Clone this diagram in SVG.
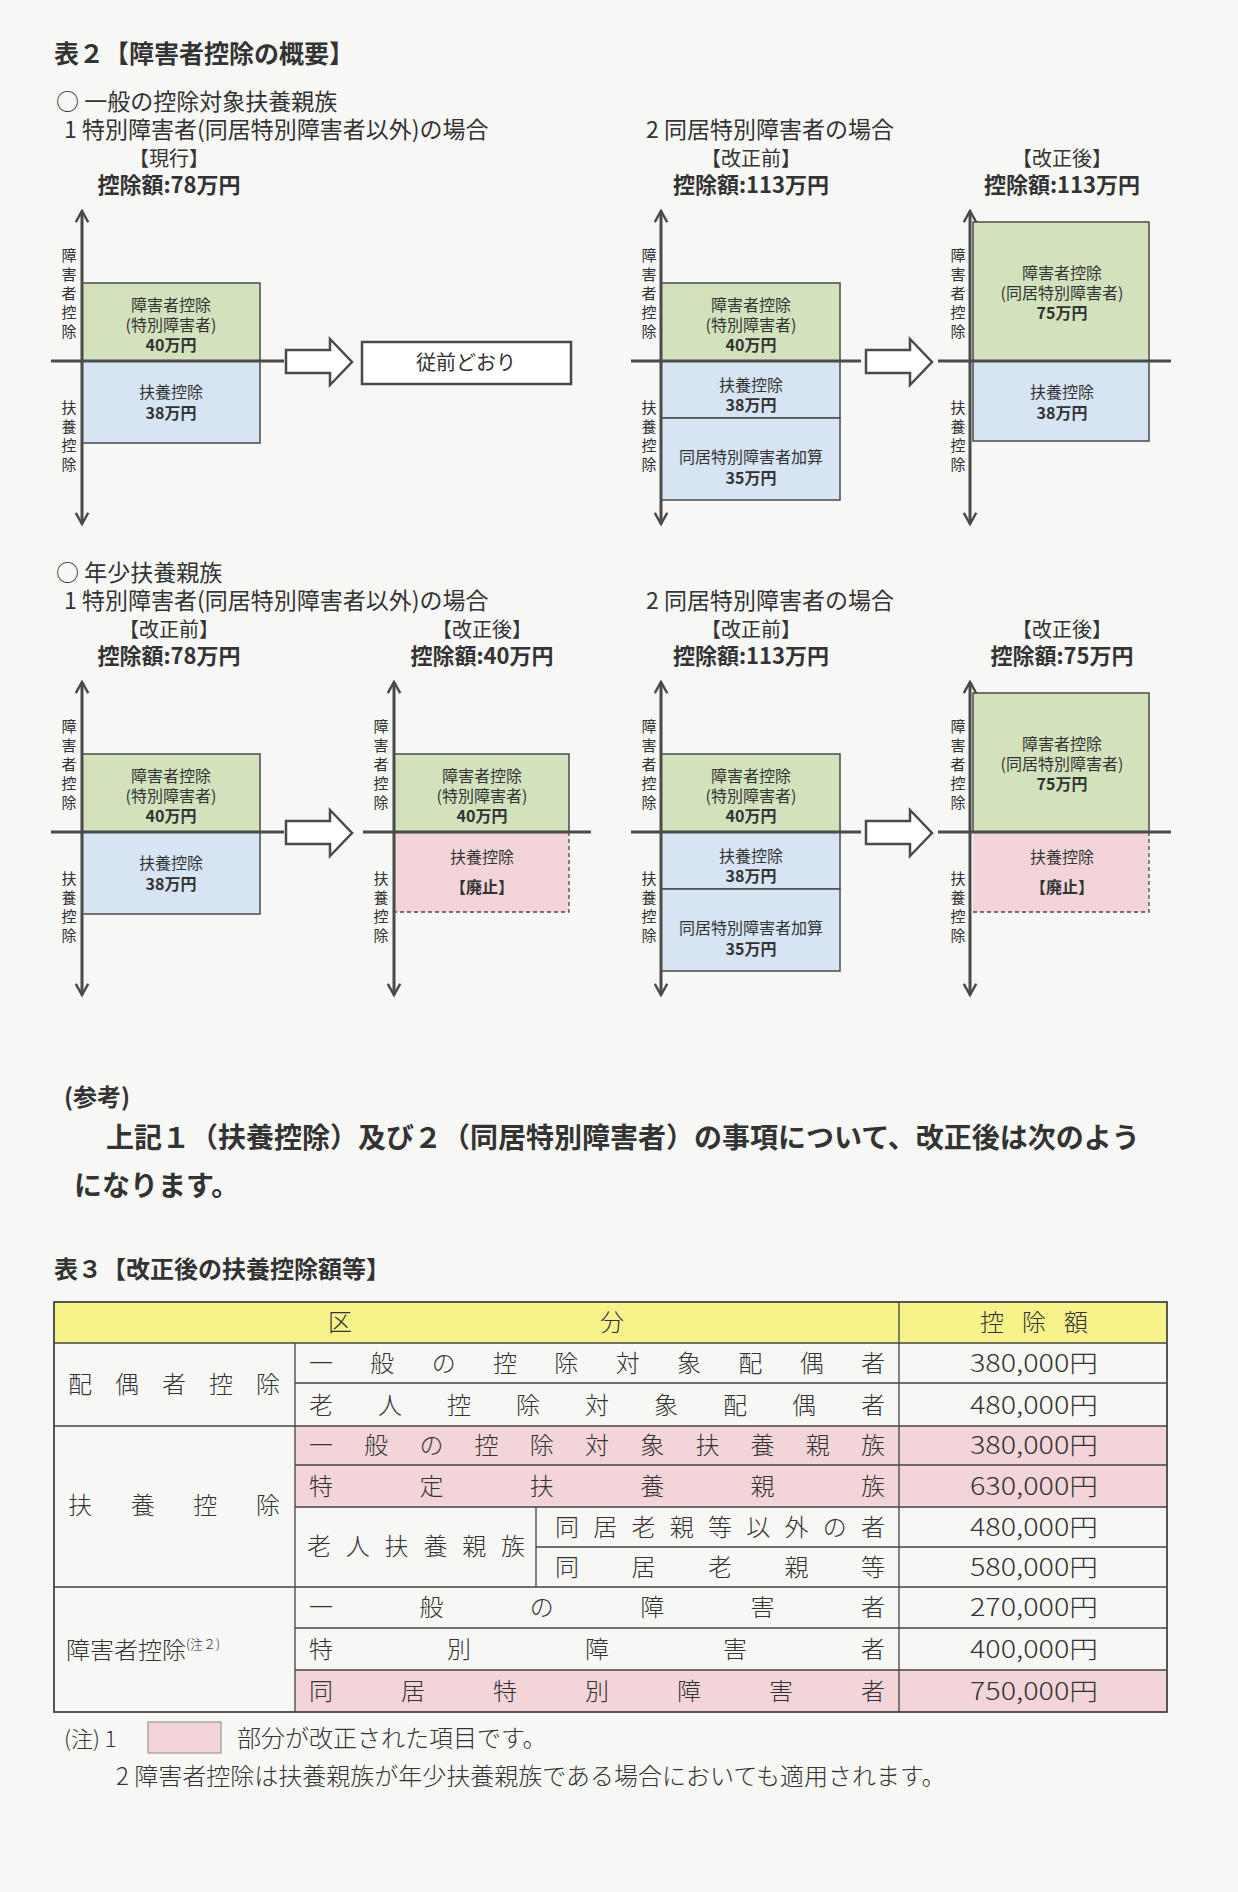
<svg xmlns="http://www.w3.org/2000/svg" width="1238" height="1892" viewBox="0 0 1238 1892">
<defs>
<style>
text{font-family:"Noto Sans CJK JP","Noto Sans",sans-serif;fill:#333}
.ax{stroke:#4a4a4a;stroke-width:3;fill:none}
.bx{stroke:#4a4a4a;stroke-width:1.5}
.g{fill:#d2e2bd}.b{fill:#d6e4f3}.p{fill:#f3d5d9}
.t{font-size:16px;text-anchor:middle}
.h{font-size:20px;text-anchor:middle}
.hb{font-size:22px;text-anchor:middle;font-weight:bold}
.s{font-size:15px;text-anchor:middle}
.harrow{fill:#fff;stroke:#4a4a4a;stroke-width:2.5}
.tb{font-size:24px;font-weight:300}
.tl{stroke:#444;stroke-width:1.3;fill:none}
.hd{font-size:23px}
</style>
<marker id="ah" viewBox="0 0 12 12" refX="10" refY="6" markerWidth="5" markerHeight="5" orient="auto-start-reverse" markerUnits="strokeWidth"><path d="M1,1 L10,6 L1,11" fill="none" stroke="#4a4a4a" stroke-width="2"/></marker>
</defs>
<rect width="1238" height="1892" fill="#f7f7f5"/>
<text x="54" y="63" font-size="25" font-weight="bold">表２【障害者控除の概要】</text>
<text class="hd" x="56" y="110">○ 一般の控除対象扶養親族</text>
<text class="hd" x="64" y="138">1  特別障害者(同居特別障害者以外)の場合</text>
<text class="hd" x="646" y="138">2  同居特別障害者の場合</text>
<text class="hd" x="56" y="581">○ 年少扶養親族</text>
<text class="hd" x="64" y="609">1  特別障害者(同居特別障害者以外)の場合</text>
<text class="hd" x="646" y="609">2  同居特別障害者の場合</text>

<!-- Panel 1 -->
<g id="p1" transform="translate(82,361)">
<rect class="g bx" x="0" y="-78" width="178" height="78"/>
<rect class="b bx" x="0" y="0" width="178" height="82"/>
<line class="ax" x1="0" y1="-150" x2="0" y2="163" marker-start="url(#ah)" marker-end="url(#ah)"/>
<line class="ax" x1="-31" y1="0" x2="202" y2="0"/>
<text class="h" x="87" y="-195">【現行】</text><text class="hb" x="87" y="-168">控除額:78万円</text>
<text class="s" x="-13" y="-100">障<tspan x="-13" dy="19">害</tspan><tspan x="-13" dy="19">者</tspan><tspan x="-13" dy="19">控</tspan><tspan x="-13" dy="19">除</tspan></text>
<text class="s" x="-13" y="52">扶<tspan x="-13" dy="19">養</tspan><tspan x="-13" dy="19">控</tspan><tspan x="-13" dy="19">除</tspan></text>
<text class="t" x="89" y="-50">障害者控除</text><text class="t" x="89" y="-30">(特別障害者)</text><text class="t" x="89" y="-10" font-weight="bold">40万円</text>
<text class="t" x="89" y="37">扶養控除</text><text class="t" x="89" y="58" font-weight="bold">38万円</text>
</g>
<g id="same"><rect x="362" y="342" width="209" height="42" fill="#fff" stroke="#4a4a4a" stroke-width="2.5"/><text class="h" x="466" y="370">従前どおり</text></g>

<!-- Panel 2 -->
<g id="p2" transform="translate(661,361)">
<rect class="g bx" x="0" y="-78" width="179" height="78"/>
<rect class="b bx" x="0" y="0" width="179" height="57"/>
<rect class="b bx" x="0" y="57" width="179" height="82"/>
<line class="ax" x1="0" y1="-150" x2="0" y2="163" marker-start="url(#ah)" marker-end="url(#ah)"/>
<line class="ax" x1="-30" y1="0" x2="200" y2="0"/>
<text class="h" x="90" y="-195">【改正前】</text><text class="hb" x="90" y="-168">控除額:113万円</text>
<text class="s" x="-12" y="-100">障<tspan x="-12" dy="19">害</tspan><tspan x="-12" dy="19">者</tspan><tspan x="-12" dy="19">控</tspan><tspan x="-12" dy="19">除</tspan></text>
<text class="s" x="-12" y="52">扶<tspan x="-12" dy="19">養</tspan><tspan x="-12" dy="19">控</tspan><tspan x="-12" dy="19">除</tspan></text>
<text class="t" x="90" y="-50">障害者控除</text><text class="t" x="90" y="-30">(特別障害者)</text><text class="t" x="90" y="-10" font-weight="bold">40万円</text>
<text class="t" x="90" y="30">扶養控除</text><text class="t" x="90" y="50" font-weight="bold">38万円</text>
<text class="t" x="90" y="102">同居特別障害者加算</text><text class="t" x="90" y="123" font-weight="bold">35万円</text>
</g>

<!-- Panel 3 -->
<g id="p3" transform="translate(970,361)">
<rect class="g bx" x="3" y="-139" width="176" height="139"/>
<rect class="b bx" x="3" y="0" width="176" height="80"/>
<line class="ax" x1="0" y1="-150" x2="0" y2="163" marker-start="url(#ah)" marker-end="url(#ah)"/>
<line class="ax" x1="-32" y1="0" x2="201" y2="0"/>
<text class="h" x="92" y="-195">【改正後】</text><text class="hb" x="92" y="-168">控除額:113万円</text>
<text class="s" x="-12" y="-100">障<tspan x="-12" dy="19">害</tspan><tspan x="-12" dy="19">者</tspan><tspan x="-12" dy="19">控</tspan><tspan x="-12" dy="19">除</tspan></text>
<text class="s" x="-12" y="52">扶<tspan x="-12" dy="19">養</tspan><tspan x="-12" dy="19">控</tspan><tspan x="-12" dy="19">除</tspan></text>
<text class="t" x="92" y="-82">障害者控除</text><text class="t" x="92" y="-62">(同居特別障害者)</text><text class="t" x="92" y="-42" font-weight="bold">75万円</text>
<text class="t" x="92" y="37">扶養控除</text><text class="t" x="92" y="58" font-weight="bold">38万円</text>
</g>

<!-- Panel A -->
<g id="pA" transform="translate(82,832)">
<rect class="g bx" x="0" y="-78" width="178" height="78"/>
<rect class="b bx" x="0" y="0" width="178" height="82"/>
<line class="ax" x1="0" y1="-150" x2="0" y2="163" marker-start="url(#ah)" marker-end="url(#ah)"/>
<line class="ax" x1="-31" y1="0" x2="202" y2="0"/>
<text class="h" x="87" y="-195">【改正前】</text><text class="hb" x="87" y="-168">控除額:78万円</text>
<text class="s" x="-13" y="-100">障<tspan x="-13" dy="19">害</tspan><tspan x="-13" dy="19">者</tspan><tspan x="-13" dy="19">控</tspan><tspan x="-13" dy="19">除</tspan></text>
<text class="s" x="-13" y="52">扶<tspan x="-13" dy="19">養</tspan><tspan x="-13" dy="19">控</tspan><tspan x="-13" dy="19">除</tspan></text>
<text class="t" x="89" y="-50">障害者控除</text><text class="t" x="89" y="-30">(特別障害者)</text><text class="t" x="89" y="-10" font-weight="bold">40万円</text>
<text class="t" x="89" y="37">扶養控除</text><text class="t" x="89" y="58" font-weight="bold">38万円</text>
</g>

<!-- Panel B -->
<g id="pB" transform="translate(394,832)">
<rect class="g bx" x="0" y="-78" width="175" height="78"/>
<rect class="p" x="0" y="0" width="175" height="80"/>
<path d="M175,0 V80 H0" fill="none" stroke="#4a4a4a" stroke-width="1.3" stroke-dasharray="4,3"/>
<line class="ax" x1="0" y1="-150" x2="0" y2="163" marker-start="url(#ah)" marker-end="url(#ah)"/>
<line class="ax" x1="-31" y1="0" x2="197" y2="0"/>
<text class="h" x="88" y="-195">【改正後】</text><text class="hb" x="88" y="-168">控除額:40万円</text>
<text class="s" x="-13" y="-100">障<tspan x="-13" dy="19">害</tspan><tspan x="-13" dy="19">者</tspan><tspan x="-13" dy="19">控</tspan><tspan x="-13" dy="19">除</tspan></text>
<text class="s" x="-13" y="52">扶<tspan x="-13" dy="19">養</tspan><tspan x="-13" dy="19">控</tspan><tspan x="-13" dy="19">除</tspan></text>
<text class="t" x="88" y="-50">障害者控除</text><text class="t" x="88" y="-30">(特別障害者)</text><text class="t" x="88" y="-10" font-weight="bold">40万円</text>
<text class="t" x="88" y="31">扶養控除</text><text class="t" x="88" y="61" font-weight="bold" font-size="18">【廃止】</text>
</g>

<!-- Panel C -->
<g id="pC" transform="translate(661,832)">
<rect class="g bx" x="0" y="-78" width="179" height="78"/>
<rect class="b bx" x="0" y="0" width="179" height="57"/>
<rect class="b bx" x="0" y="57" width="179" height="82"/>
<line class="ax" x1="0" y1="-150" x2="0" y2="163" marker-start="url(#ah)" marker-end="url(#ah)"/>
<line class="ax" x1="-30" y1="0" x2="200" y2="0"/>
<text class="h" x="90" y="-195">【改正前】</text><text class="hb" x="90" y="-168">控除額:113万円</text>
<text class="s" x="-12" y="-100">障<tspan x="-12" dy="19">害</tspan><tspan x="-12" dy="19">者</tspan><tspan x="-12" dy="19">控</tspan><tspan x="-12" dy="19">除</tspan></text>
<text class="s" x="-12" y="52">扶<tspan x="-12" dy="19">養</tspan><tspan x="-12" dy="19">控</tspan><tspan x="-12" dy="19">除</tspan></text>
<text class="t" x="90" y="-50">障害者控除</text><text class="t" x="90" y="-30">(特別障害者)</text><text class="t" x="90" y="-10" font-weight="bold">40万円</text>
<text class="t" x="90" y="30">扶養控除</text><text class="t" x="90" y="50" font-weight="bold">38万円</text>
<text class="t" x="90" y="102">同居特別障害者加算</text><text class="t" x="90" y="123" font-weight="bold">35万円</text>
</g>

<!-- Panel D -->
<g id="pD" transform="translate(970,832)">
<rect class="g bx" x="3" y="-139" width="176" height="139"/>
<rect class="p" x="3" y="0" width="176" height="80"/>
<path d="M179,0 V80 H3" fill="none" stroke="#4a4a4a" stroke-width="1.3" stroke-dasharray="4,3"/>
<line class="ax" x1="0" y1="-150" x2="0" y2="163" marker-start="url(#ah)" marker-end="url(#ah)"/>
<line class="ax" x1="-32" y1="0" x2="201" y2="0"/>
<text class="h" x="92" y="-195">【改正後】</text><text class="hb" x="92" y="-168">控除額:75万円</text>
<text class="s" x="-12" y="-100">障<tspan x="-12" dy="19">害</tspan><tspan x="-12" dy="19">者</tspan><tspan x="-12" dy="19">控</tspan><tspan x="-12" dy="19">除</tspan></text>
<text class="s" x="-12" y="52">扶<tspan x="-12" dy="19">養</tspan><tspan x="-12" dy="19">控</tspan><tspan x="-12" dy="19">除</tspan></text>
<text class="t" x="92" y="-82">障害者控除</text><text class="t" x="92" y="-62">(同居特別障害者)</text><text class="t" x="92" y="-42" font-weight="bold">75万円</text>
<text class="t" x="92" y="31">扶養控除</text><text class="t" x="92" y="61" font-weight="bold" font-size="18">【廃止】</text>
</g>

<!-- connectors -->
<g id="connectors">
<path class="harrow" d="M286,350 H330 V339 L352,362 L330,385 V373 H286 Z"/>
<path class="harrow" d="M866,350 H910 V339 L932,362 L910,385 V373 H866 Z"/>
<path class="harrow" d="M286,821 H330 V810 L352,833 L330,856 V844 H286 Z"/>
<path class="harrow" d="M866,821 H910 V810 L932,833 L910,856 V844 H866 Z"/>
</g>

<text x="64" y="1106" font-size="24" font-weight="bold">(参考)</text>
<text x="106" y="1148" font-size="28" font-weight="bold">上記１（扶養控除）及び２（同居特別障害者）の事項について、改正後は次のよう</text>
<text x="74" y="1196" font-size="28" font-weight="bold">になります。</text>
<text x="54" y="1278" font-size="24" font-weight="bold">表３【改正後の扶養控除額等】</text>

<g id="table">
<rect x="54" y="1302" width="1113" height="41" fill="#f7f28a"/>
<rect x="295" y="1426" width="872" height="81" fill="#f3d5d9"/>
<rect x="295" y="1670" width="872" height="42" fill="#f3d5d9"/>
<rect x="54" y="1302" width="1113" height="410" fill="none" stroke="#444" stroke-width="1.8"/>
<path class="tl" d="M54,1343 H1167 M295,1383 H1167 M54,1426 H1167 M295,1465 H1167 M295,1507 H1167 M536,1547 H1167 M54,1587 H1167 M295,1628 H1167 M295,1670 H1167 M295,1343 V1712 M536,1507 V1587 M899,1302 V1712"/>
<text class="tb" x="328" y="1331">区</text><text class="tb" x="600" y="1331">分</text>
<text class="tb" x="980" y="1331" textLength="108" lengthAdjust="spacing">控除額</text>
<text class="tb" x="68" y="1393" textLength="212" lengthAdjust="spacing">配偶者控除</text>
<text class="tb" x="68" y="1514" textLength="212" lengthAdjust="spacing">扶養控除</text>
<text class="tb" x="66" y="1659">障害者控除<tspan font-size="13" dy="-10">(注２)</tspan></text>
<text class="tb" x="309" y="1372" textLength="576" lengthAdjust="spacing">一般の控除対象配偶者</text>
<text class="tb" x="309" y="1414" textLength="576" lengthAdjust="spacing">老人控除対象配偶者</text>
<text class="tb" x="309" y="1454" textLength="576" lengthAdjust="spacing">一般の控除対象扶養親族</text>
<text class="tb" x="309" y="1495" textLength="576" lengthAdjust="spacing">特定扶養親族</text>
<text class="tb" x="307" y="1555" textLength="218" lengthAdjust="spacing">老人扶養親族</text>
<text class="tb" x="555" y="1536" textLength="330" lengthAdjust="spacing">同居老親等以外の者</text>
<text class="tb" x="555" y="1576" textLength="330" lengthAdjust="spacing">同居老親等</text>
<text class="tb" x="309" y="1616" textLength="576" lengthAdjust="spacing">一般の障害者</text>
<text class="tb" x="309" y="1658" textLength="576" lengthAdjust="spacing">特別障害者</text>
<text class="tb" x="309" y="1700" textLength="576" lengthAdjust="spacing">同居特別障害者</text>
<g>
<text class="tb" x="970" y="1372" textLength="128" lengthAdjust="spacingAndGlyphs">380,000円</text>
<text class="tb" x="970" y="1414" textLength="128" lengthAdjust="spacingAndGlyphs">480,000円</text>
<text class="tb" x="970" y="1454" textLength="128" lengthAdjust="spacingAndGlyphs">380,000円</text>
<text class="tb" x="970" y="1495" textLength="128" lengthAdjust="spacingAndGlyphs">630,000円</text>
<text class="tb" x="970" y="1536" textLength="128" lengthAdjust="spacingAndGlyphs">480,000円</text>
<text class="tb" x="970" y="1576" textLength="128" lengthAdjust="spacingAndGlyphs">580,000円</text>
<text class="tb" x="970" y="1616" textLength="128" lengthAdjust="spacingAndGlyphs">270,000円</text>
<text class="tb" x="970" y="1658" textLength="128" lengthAdjust="spacingAndGlyphs">400,000円</text>
<text class="tb" x="970" y="1700" textLength="128" lengthAdjust="spacingAndGlyphs">750,000円</text>
</g>
</g>
<rect x="148" y="1722" width="73" height="31" fill="#f3d5d9" stroke="#888" stroke-width="1"/>
<text x="64" y="1747" font-size="22" font-weight="300">(注) 1</text>
<text x="237" y="1747" font-size="24" font-weight="300">部分が改正された項目です。</text>
<text x="116" y="1785" font-size="24" font-weight="300">2  障害者控除は扶養親族が年少扶養親族である場合においても適用されます。</text>
</svg>
